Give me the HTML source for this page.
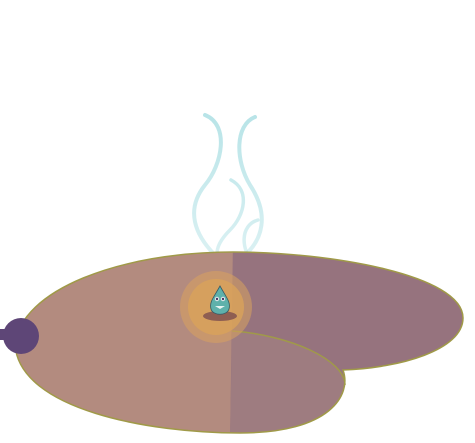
<!DOCTYPE html>
<html><head><meta charset="utf-8"><style>html,body{margin:0;padding:0;background:#fff}svg{display:block}</style></head>
<body>
<svg width="475" height="443" viewBox="0 0 475 443">
<defs>
<clipPath id="blob"><path d="M15,345 C20,290 120,252 233,252 C330,252 463,275 463,318 C463,350 400,368 343,370 C352,395 330,433 240,433 C150,433 20,410 15,345 Z"/></clipPath>
<linearGradient id="sg" x1="0" y1="110" x2="0" y2="310" gradientUnits="userSpaceOnUse">
<stop offset="0" stop-color="#b3e2e6" stop-opacity="0.95"/>
<stop offset="1" stop-color="#b3e2e6" stop-opacity="0.3"/>
</linearGradient>
</defs>
<g fill="none" stroke="url(#sg)" stroke-linecap="round">
<path d="M205,115 C230,125 222,165 205,185 C185,210 195,235 215,255" stroke-width="4"/>
<path d="M255,117 C235,125 235,160 250,185 C270,215 262,240 245,255" stroke-width="4"/>
<path d="M231,180 C250,190 245,215 230,230 C215,245 215,255 220,265" stroke-width="3.5"/>
<path d="M258,220 C240,225 240,250 255,265 C268,280 262,295 250,305" stroke-width="3.5"/>
</g>
<g clip-path="url(#blob)">
<rect x="0" y="240" width="233" height="200" fill="#b38b7f"/>
<path d="M233,240 L475,240 L475,443 L230,443 Z" fill="#96737e"/>
<path d="M232,331 C290,335 345,360 345,385 L345,443 L230,443 Z" fill="#9e7c80"/>
</g>
<path d="M15,345 C20,290 120,252 233,252 C330,252 463,275 463,318 C463,350 400,368 343,370 C352,395 330,433 240,433 C150,433 20,410 15,345 Z" fill="none" stroke="#a09a48" stroke-width="1.5"/>
<path d="M232,331 C290,335 345,360 345,385" fill="none" stroke="#a09a48" stroke-width="1.5"/>
<g>
<rect x="0" y="329" width="8" height="11" fill="#5e4677"/>
<circle cx="21" cy="336" r="18" fill="#5e4677"/>
</g>
<g>
<circle cx="216" cy="307" r="36" fill="#d9a35e" opacity="0.55"/>
<circle cx="216" cy="307" r="28" fill="#d9a35a" opacity="0.8"/>
<ellipse cx="220" cy="316" rx="17" ry="5" fill="#8e5e52"/>
<path d="M220,286 C226,297 231,302 229,309 C227,316 213,316 211,309 C209,302 214,297 220,286 Z" fill="#5fb1ab" stroke="#355a66" stroke-width="0.8"/>
<circle cx="217" cy="299" r="2.2" fill="#e8eef0"/><circle cx="217" cy="299" r="1.2" fill="#4a3a66"/>
<circle cx="223" cy="299" r="2.2" fill="#e8eef0"/><circle cx="223" cy="299" r="1.2" fill="#4a3a66"/>
<path d="M215,306 L225,306 L220,309 Z" fill="#e8f4f2"/>
</g>
</svg>
</body></html>
